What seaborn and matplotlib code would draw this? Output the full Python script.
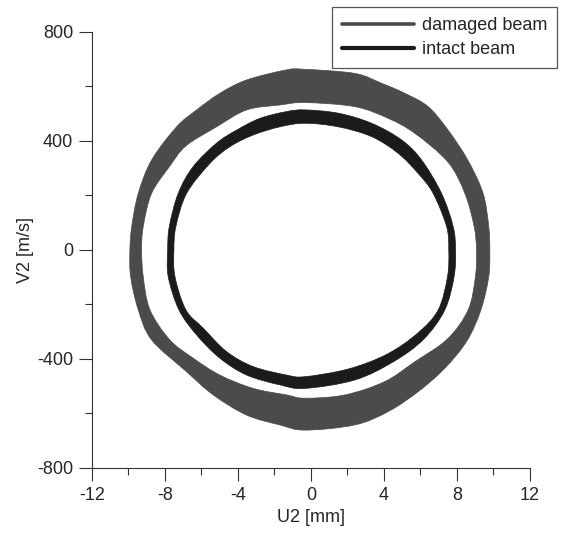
import numpy as np
import matplotlib
matplotlib.use("Agg")
import matplotlib.pyplot as plt
from matplotlib.path import Path
from matplotlib.patches import PathPatch
from matplotlib.ticker import MultipleLocator
import seaborn as sns

# Boundaries of the two phase-portrait bands
# (U2 in mm, V2 in m/s), going clockwise from the left side
damaged_outer_u = [-9.92, -9.82, -9.46, -8.73, -7.36, -6.26, -4.99, -3.52, -1.33, -0.33, 2.41, 3.87,
                   5.15, 6.43, 7.52, 8.60, 9.44, 9.75, 9.81, 9.75, 9.32, 8.55, 7.34, 5.88, 4.24,
                   2.41, -0.33, -1.70, -3.52, -5.35, -6.81, -8.73, -9.46, -9.88]
damaged_outer_v = [0, 86, 208, 330, 452, 514, 575, 624, 661, 663, 648, 612,
                   575, 526, 440, 330, 208, 86, 0, -98, -220, -334, -434, -520, -593,
                   -642, -661, -642, -606, -532, -447, -330, -220, -98]
damaged_inner_u = [-9.28, -9.19, -8.73, -7.73, -6.85, -5.17, -3.52, -1.70, -0.33, 2.41, 4.24, 5.70,
                   7.51, 8.44, 8.95, 9.08, 9.02, 8.62, 7.48, 5.70, 4.05, 1.86, -0.33,
                   -1.33, -3.16, -4.99, -6.45, -7.73, -8.82, -9.19]
damaged_inner_v = [0, 86, 208, 308, 382, 452, 514, 532, 541, 526, 483, 428,
                   323, 208, 86, 0, -98, -220, -327, -410, -483, -532, -544,
                   -532, -508, -459, -397, -330, -220, -98]
intact_outer_u = [-7.85, -7.76, -7.27, -6.45, -5.17, -4.07, -2.79, -1.33, -0.33, 1.50, 3.33, 4.97,
                  6.07, 7.16, 7.80, 7.93, 7.85, 7.34, 6.19, 4.55, 2.41, -0.33, -1.70, -3.52,
                  -4.99, -6.26, -7.23, -7.82]
intact_outer_v = [0, 86, 208, 306, 392, 440, 483, 508, 514, 502, 465, 404,
                  330, 208, 86, 0, -98, -220, -327, -409, -477, -508, -495, -459,
                  -397, -312, -220, -98]
intact_inner_u = [-7.51, -7.40, -6.81, -5.53, -4.44, -3.16, -1.70, -0.33, 1.50, 3.33, 4.78, 5.88,
                  6.70, 7.44, 7.56, 7.49, 6.98, 5.86, 4.16, 2.04, -0.33, -1.33, -3.16, -4.62,
                  -5.90, -6.85, -7.45]
intact_inner_v = [0, 86, 208, 318, 379, 422, 452, 465, 452, 416, 355, 281,
                  208, 86, 0, -98, -220, -305, -383, -437, -465, -459, -428, -373,
                  -287, -220, -98]

series = ["damaged beam", "intact beam"]
colors = ["#4b4b4b", "#1b1b1b"]

sns.set_style("ticks")
plt.rcParams["font.family"] = ["Liberation Sans", "DejaVu Sans"]
plt.rcParams["font.size"] = 13
plt.rcParams["axes.unicode_minus"] = False

fig = plt.figure(figsize=(5.66, 5.33), dpi=100)
ax = fig.add_axes([0.1625, 0.122, 0.7735, 0.818])
ax.set_xlim(-12, 12)
ax.set_ylim(-800, 800)


def smooth_loop(u, v):
    # closed curve through the read points, drawn as Bezier segments
    # (done in pixel space so the curvature is even in both directions)
    pts = ax.transData.transform(np.column_stack([u, v]))
    n = len(pts)
    verts = [pts[0]]
    codes = [Path.MOVETO]
    for i in range(n):
        p0, p1, p2, p3 = pts[i - 1], pts[i], pts[(i + 1) % n], pts[(i + 2) % n]
        verts += [p1 + (p2 - p0) / 6, p2 - (p3 - p1) / 6, p2]
        codes += [Path.CURVE4] * 3
    return np.array(verts), codes


def ring(ou, ov, iu, iv, color, label):
    vo, co = smooth_loop(ou, ov)
    vi, ci = smooth_loop(iu[::-1], iv[::-1])
    path = Path(np.vstack([vo, vi]), co + ci)
    ax.add_patch(PathPatch(path, facecolor=color, edgecolor=color, lw=0.5, transform=None))
    # invisible seaborn line carries the legend entry
    sns.lineplot(x=ou, y=ov, sort=False, estimator=None, color=color, lw=0, ax=ax, label=label)


ring(damaged_outer_u, damaged_outer_v, damaged_inner_u, damaged_inner_v, colors[0], series[0])
ring(intact_outer_u, intact_outer_v, intact_inner_u, intact_inner_v, colors[1], series[1])

ax.set_xlim(-12, 12)
ax.set_ylim(-800, 800)
ax.xaxis.set_major_locator(MultipleLocator(4))
ax.xaxis.set_minor_locator(MultipleLocator(2))
ax.yaxis.set_major_locator(MultipleLocator(400))
ax.yaxis.set_minor_locator(MultipleLocator(200))
ax.tick_params(which="major", length=9.5, width=0.8, color="#333333", pad=4, labelsize=13)
ax.tick_params(which="minor", length=5, width=0.8, color="#333333")
for s in ["top", "right"]:
    ax.spines[s].set_visible(False)
for s in ["left", "bottom"]:
    ax.spines[s].set_color("#333333")
    ax.spines[s].set_linewidth(0.8)

ax.set_xlabel("U2 [mm]", fontsize=13, labelpad=4)
ax.set_ylabel("V2 [m/s]", fontsize=13, labelpad=2)

leg = ax.legend(loc="upper right", bbox_to_anchor=(0.984, 0.987), bbox_transform=fig.transFigure,
                borderaxespad=0, frameon=True, fancybox=False, framealpha=1, edgecolor="#555555",
                handlelength=4, handletextpad=0.4, labelspacing=0.42, borderpad=0.55,
                fontsize=13)
leg.get_frame().set_linewidth(0.9)
for line, w in zip(leg.get_lines(), [2.6, 3.0]):
    line.set_linewidth(w)

fig.savefig("out.png", dpi=100)
